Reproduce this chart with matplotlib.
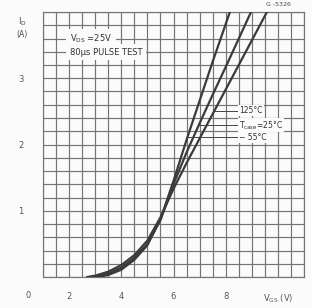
import matplotlib
matplotlib.use("Agg")
import matplotlib.pyplot as plt
import numpy as np

# Data (V_GS in volts, I_D in amperes)
vgs_m55 = [3.1, 3.5, 4.0, 4.5, 5.0, 5.5, 6.0, 6.5, 7.0, 7.5, 8.16]
id_m55 = [0.0, 0.03, 0.11, 0.26, 0.48, 0.87, 1.45, 2.07, 2.66, 3.25, 4.0]

vgs_25 = [2.9, 3.5, 4.0, 4.5, 5.0, 5.5, 6.0, 6.5, 7.0, 7.5, 8.0, 8.97]
id_25 = [0.0, 0.05, 0.14, 0.29, 0.50, 0.86, 1.40, 1.88, 2.32, 2.75, 3.17, 4.0]

vgs_125 = [2.7, 3.0, 3.5, 4.0, 4.5, 5.0, 5.5, 6.0, 6.5, 7.0, 7.5, 8.0, 8.5, 9.58]
id_125 = [0.0, 0.02, 0.08, 0.18, 0.33, 0.55, 0.90, 1.33, 1.72, 2.09, 2.46, 2.83, 3.20, 4.0]

x_ticks = [2, 4, 6, 8, 10]
x_ticklabels = ["2", "4", "6", "8", r"$\mathregular{V_{GS}}$ (V)"]
y_ticks = [1, 2, 3]
y_ticklabels = ["1", "2", "3"]

labels = ["125°C", r"T$\mathregular{_{case}}$=25°C", "− 55°C"]
label_y = [2.51, 2.29, 2.11]

bg = "#fbfbfb"
fig = plt.figure(figsize=(3.12, 3.08), dpi=100)
fig.patch.set_facecolor(bg)
ax = fig.add_axes([43 / 312, 1 - 277 / 308, (304 - 43) / 312, (277 - 12) / 308])
ax.set_facecolor(bg)
ax.set_xlim(1, 11)
ax.set_ylim(0, 4)

ax.set_xticks(np.arange(1, 11.01, 0.5), minor=True)
ax.set_yticks(np.arange(0, 4.01, 0.2), minor=True)
ax.set_xticks(x_ticks)
ax.set_xticklabels(x_ticklabels)
ax.set_yticks(y_ticks)
ax.set_yticklabels(y_ticklabels)
ax.tick_params(which="both", length=0)
ax.tick_params(axis="x", pad=11, labelsize=6, labelcolor="#555555")
ax.tick_params(axis="y", pad=14, labelsize=6, labelcolor="#555555")
ax.grid(which="both", color="#747474", lw=0.85)
ax.set_axisbelow(True)
for s in ax.spines.values():
    s.set_color("#747474")
    s.set_linewidth(0.85)

curve_color = "#3a3a3a"
ax.plot(vgs_m55, id_m55, color=curve_color, lw=1.6, zorder=3)
ax.plot(vgs_25, id_25, color=curve_color, lw=1.6, zorder=3)
ax.plot(vgs_125, id_125, color=curve_color, lw=1.6, zorder=3)

# leaders
curves = [(vgs_125, id_125), (vgs_25, id_25), (vgs_m55, id_m55)]
for (vx, vy), ly, lab in zip(curves, label_y, labels):
    xc = np.interp(ly, vy, vx)
    ax.plot([xc, 8.47], [ly, ly], color="#444444", lw=0.7, zorder=4)
    ax.text(8.52, ly, lab, fontsize=5.5, color="#333333", va="center", ha="left",
            zorder=5, bbox=dict(facecolor=bg, edgecolor="none", pad=0.6))

# annotation box
ax.text(2.03, 3.60, r"$\mathregular{V_{DS}}$ =25V", fontsize=6, color="#333333",
        va="center", ha="left", zorder=5,
        bbox=dict(facecolor=bg, edgecolor="none", pad=2.5))
ax.text(2.03, 3.39, "80µs PULSE TEST", fontsize=6, color="#333333",
        va="center", ha="left", zorder=5,
        bbox=dict(facecolor=bg, edgecolor="none", pad=2.5))

# axis captions
fig.text(22 / 312, 1 - 22 / 308, r"$\mathregular{I_D}$", fontsize=6, color="#444444",
         ha="center", va="center")
fig.text(22 / 312, 1 - 34 / 308, "(A)", fontsize=5.5, color="#444444",
         ha="center", va="center")
fig.text(28 / 312, 1 - 295 / 308, "0", fontsize=6, color="#555555",
         ha="center", va="center")
fig.text(278 / 312, 1 - 5 / 308, "G -5326", fontsize=4.5, color="#444444",
         ha="center", va="center")

fig.savefig("out.png", dpi=100, facecolor=fig.get_facecolor())
